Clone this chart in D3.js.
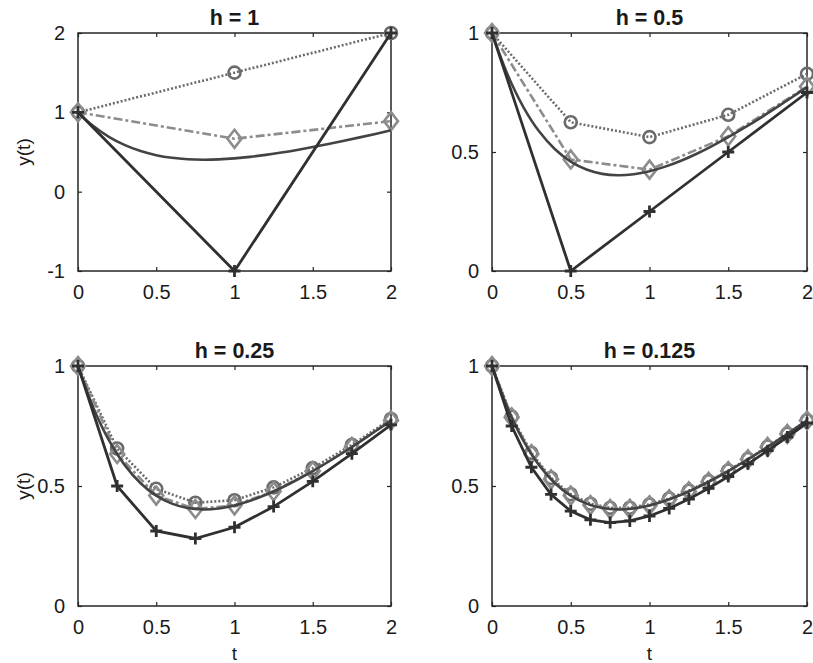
<!DOCTYPE html>
<html>
<head>
<meta charset="utf-8">
<script src="https://cdn.jsdelivr.net/npm/d3@7"></script>
<style>
  html, body { margin: 0; padding: 0; background: #ffffff; }
  svg { display: block; }
  text { font-family: "Liberation Sans", Arial, Helvetica, sans-serif; fill: #1a1a1a; }
</style>
</head>
<body>
<svg id="chart" width="813" height="663"></svg>
<script>
// ---------------- DATA ----------------
// Exact solution y(t), sampled finely
const tExact = [0,0.1,0.2,0.3,0.4,0.5,0.6,0.7,0.8,0.9,1.0,1.1,1.2,1.3,1.4,1.5,1.6,1.7,1.8,1.9,2.0];
const yExact = [1.0,0.8234,0.6879,0.5860,0.5117,0.4598,0.4265,0.4082,0.4024,0.4066,0.4192,
                0.4385,0.4634,0.4928,0.5260,0.5622,0.6010,0.6417,0.6842,0.7280,0.7729];

// h = 1
const tH1 = [0, 1, 2];
const eulerH1 = [1, -1, 2];
const heunH1 = [1, 1.5, 2];
const rk4H1 = [1, 0.6667, 0.8889];

// h = 0.5
const tH05 = [0, 0.5, 1, 1.5, 2];
const eulerH05 = [1, 0, 0.25, 0.5, 0.75];
const heunH05 = [1, 0.625, 0.5625, 0.6563, 0.8281];
const rk4H05 = [1, 0.4688, 0.4258, 0.5659, 0.7747];

// h = 0.25
const tH025 = [0, 0.25, 0.5, 0.75, 1, 1.25, 1.5, 1.75, 2];
const eulerH025 = [1, 0.5, 0.3125, 0.2813, 0.3281, 0.4141, 0.5195, 0.6348, 0.7549];
const heunH025 = [1, 0.6563, 0.4883, 0.4302, 0.4407, 0.4942, 0.5745, 0.6716, 0.7791];
const rk4H025 = [1, 0.6335, 0.4602, 0.4042, 0.4194, 0.4778, 0.5624, 0.6629, 0.7730];

// h = 0.125
const tH0125 = [0,0.125,0.25,0.375,0.5,0.625,0.75,0.875,1,1.125,1.25,1.375,1.5,1.625,1.75,1.875,2];
const eulerH0125 = [1,0.75,0.5781,0.4648,0.3955,0.3591,0.3475,0.3544,0.3751,0.4064,0.4454,0.4903,0.5396,0.5922,0.6473,0.7042,0.7625];
const heunH0125 = [1,0.7891,0.6379,0.5335,0.4657,0.4263,0.4092,0.4095,0.4235,0.4480,0.4809,0.5202,0.5646,0.6130,0.6644,0.7183,0.7741];
const rk4H0125 = [1,0.7860,0.6332,0.5280,0.4599,0.4206,0.4039,0.4047,0.4192,0.4443,0.4776,0.5174,0.5622,0.6110,0.6628,0.7169,0.7729];

// Labels / ticks
const titles = ["h = 1", "h = 0.5", "h = 0.25", "h = 0.125"];
const xTicks = [0, 0.5, 1, 1.5, 2];
const yTicksTop = [-1, 0, 1, 2];
const yTicksUnit = [0, 0.5, 1];
const xLabel = "t";
const yLabel = "y(t)";

// ---------------- LAYOUT / STYLE ----------------
const colExact = "#434343";
const colEuler = "#303030";
const colHeun = "#6b6b6b";
const colRK4 = "#8c8c8c";
const axisCol = "#262626";
const tickFont = 20;
const titleFont = 21.5;
const labelFont = 19;

const panels = [
  { title: titles[0], box: [78, 391, 33, 271], ydom: [-1, 2], yticks: yTicksTop, t: tH1, eu: eulerH1, he: heunH1, rk: rk4H1, showY: true, showX: false },
  { title: titles[1], box: [492, 807, 33, 271], ydom: [0, 1], yticks: yTicksUnit, t: tH05, eu: eulerH05, he: heunH05, rk: rk4H05, showY: false, showX: false },
  { title: titles[2], box: [78, 391, 366, 606], ydom: [0, 1], yticks: yTicksUnit, t: tH025, eu: eulerH025, he: heunH025, rk: rk4H025, showY: true, showX: true },
  { title: titles[3], box: [492, 807, 366, 606], ydom: [0, 1], yticks: yTicksUnit, t: tH0125, eu: eulerH0125, he: heunH0125, rk: rk4H0125, showY: false, showX: true }
];

const fmt = v => (v < 0 ? "-" : "") + String(Math.abs(v));

const svg = d3.select("#chart");

panels.forEach(p => {
  const [x0, x1, y0, y1] = p.box;
  const x = d3.scaleLinear().domain([0, 2]).range([x0, x1]);
  const y = d3.scaleLinear().domain(p.ydom).range([y1, y0]);
  const g = svg.append("g");

  // Axes (inward ticks, box on)
  const tickLen = 4;
  const gb = g.append("g").attr("transform", `translate(0,${y1})`)
    .call(d3.axisBottom(x).tickValues(xTicks).tickFormat(fmt).tickSizeInner(-tickLen).tickSizeOuter(0).tickPadding(14));
  const gt = g.append("g").attr("transform", `translate(0,${y0})`)
    .call(d3.axisTop(x).tickValues(xTicks).tickFormat("").tickSizeInner(-tickLen).tickSizeOuter(0));
  const gl = g.append("g").attr("transform", `translate(${x0},0)`)
    .call(d3.axisLeft(y).tickValues(p.yticks).tickFormat(fmt).tickSizeInner(-tickLen).tickSizeOuter(0).tickPadding(13));
  const gr = g.append("g").attr("transform", `translate(${x1},0)`)
    .call(d3.axisRight(y).tickValues(p.yticks).tickFormat("").tickSizeInner(-tickLen).tickSizeOuter(0));
  [gb, gt, gl, gr].forEach(a => {
    a.select(".domain").remove();
    a.selectAll(".tick line").attr("stroke", axisCol).attr("stroke-width", 1.2);
    a.selectAll(".tick text").attr("font-size", tickFont).attr("fill", "#1a1a1a")
      .style("font-family", "'Liberation Sans', Arial, sans-serif");
  });
  g.append("rect").attr("x", x0).attr("y", y0).attr("width", x1 - x0).attr("height", y1 - y0)
    .attr("fill", "none").attr("stroke", axisCol).attr("stroke-width", 1.5);

  // Title
  g.append("text").attr("x", (x0 + x1) / 2).attr("y", y0 - 8)
    .attr("text-anchor", "middle").attr("font-size", titleFont).attr("font-weight", "bold").text(p.title);

  if (p.showY) {
    g.append("text").attr("transform", `translate(30,${(y0 + y1) / 2}) rotate(-90)`)
      .attr("text-anchor", "middle").attr("font-size", labelFont).text(yLabel);
  }
  if (p.showX) {
    g.append("text").attr("x", (x0 + x1) / 2).attr("y", y1 + 54)
      .attr("text-anchor", "middle").attr("font-size", labelFont).text(xLabel);
  }

  const line = d3.line().x(d => x(d[0])).y(d => y(d[1]));
  const smooth = d3.line().x(d => x(d[0])).y(d => y(d[1])).curve(d3.curveCatmullRom);

  const heunPts = p.t.map((t, i) => [t, p.he[i]]);
  const rkPts = p.t.map((t, i) => [t, p.rk[i]]);
  const euPts = p.t.map((t, i) => [t, p.eu[i]]);
  const exPts = tExact.map((t, i) => [t, yExact[i]]);

  // Heun (dotted, circles)
  g.append("path").attr("d", line(heunPts)).attr("fill", "none")
    .attr("stroke", colHeun).attr("stroke-width", 2.6).attr("stroke-dasharray", "2,2");
  g.selectAll(".mc").data(heunPts).enter().append("circle")
    .attr("cx", d => x(d[0])).attr("cy", d => y(d[1])).attr("r", 6)
    .attr("fill", "none").attr("stroke", colHeun).attr("stroke-width", 2.6);

  // RK4 (dash-dot, diamonds)
  g.append("path").attr("d", line(rkPts)).attr("fill", "none")
    .attr("stroke", colRK4).attr("stroke-width", 2.6).attr("stroke-dasharray", "9,3,3,3");
  g.selectAll(".md").data(rkPts).enter().append("path")
    .attr("transform", d => `translate(${x(d[0])},${y(d[1])})`)
    .attr("d", "M0,-9L7,0L0,9L-7,0Z")
    .attr("fill", "none").attr("stroke", colRK4).attr("stroke-width", 2.6);

  // Exact
  g.append("path").attr("d", smooth(exPts)).attr("fill", "none")
    .attr("stroke", colExact).attr("stroke-width", 2.6);

  // Euler (solid, plus)
  g.append("path").attr("d", line(euPts)).attr("fill", "none")
    .attr("stroke", colEuler).attr("stroke-width", 2.8);
  g.selectAll(".mp").data(euPts).enter().append("path")
    .attr("transform", d => `translate(${x(d[0])},${y(d[1])})`)
    .attr("d", "M-6,0H6M0,-6V6")
    .attr("fill", "none").attr("stroke", colEuler).attr("stroke-width", 2.8);
});
</script>
</body>
</html>
